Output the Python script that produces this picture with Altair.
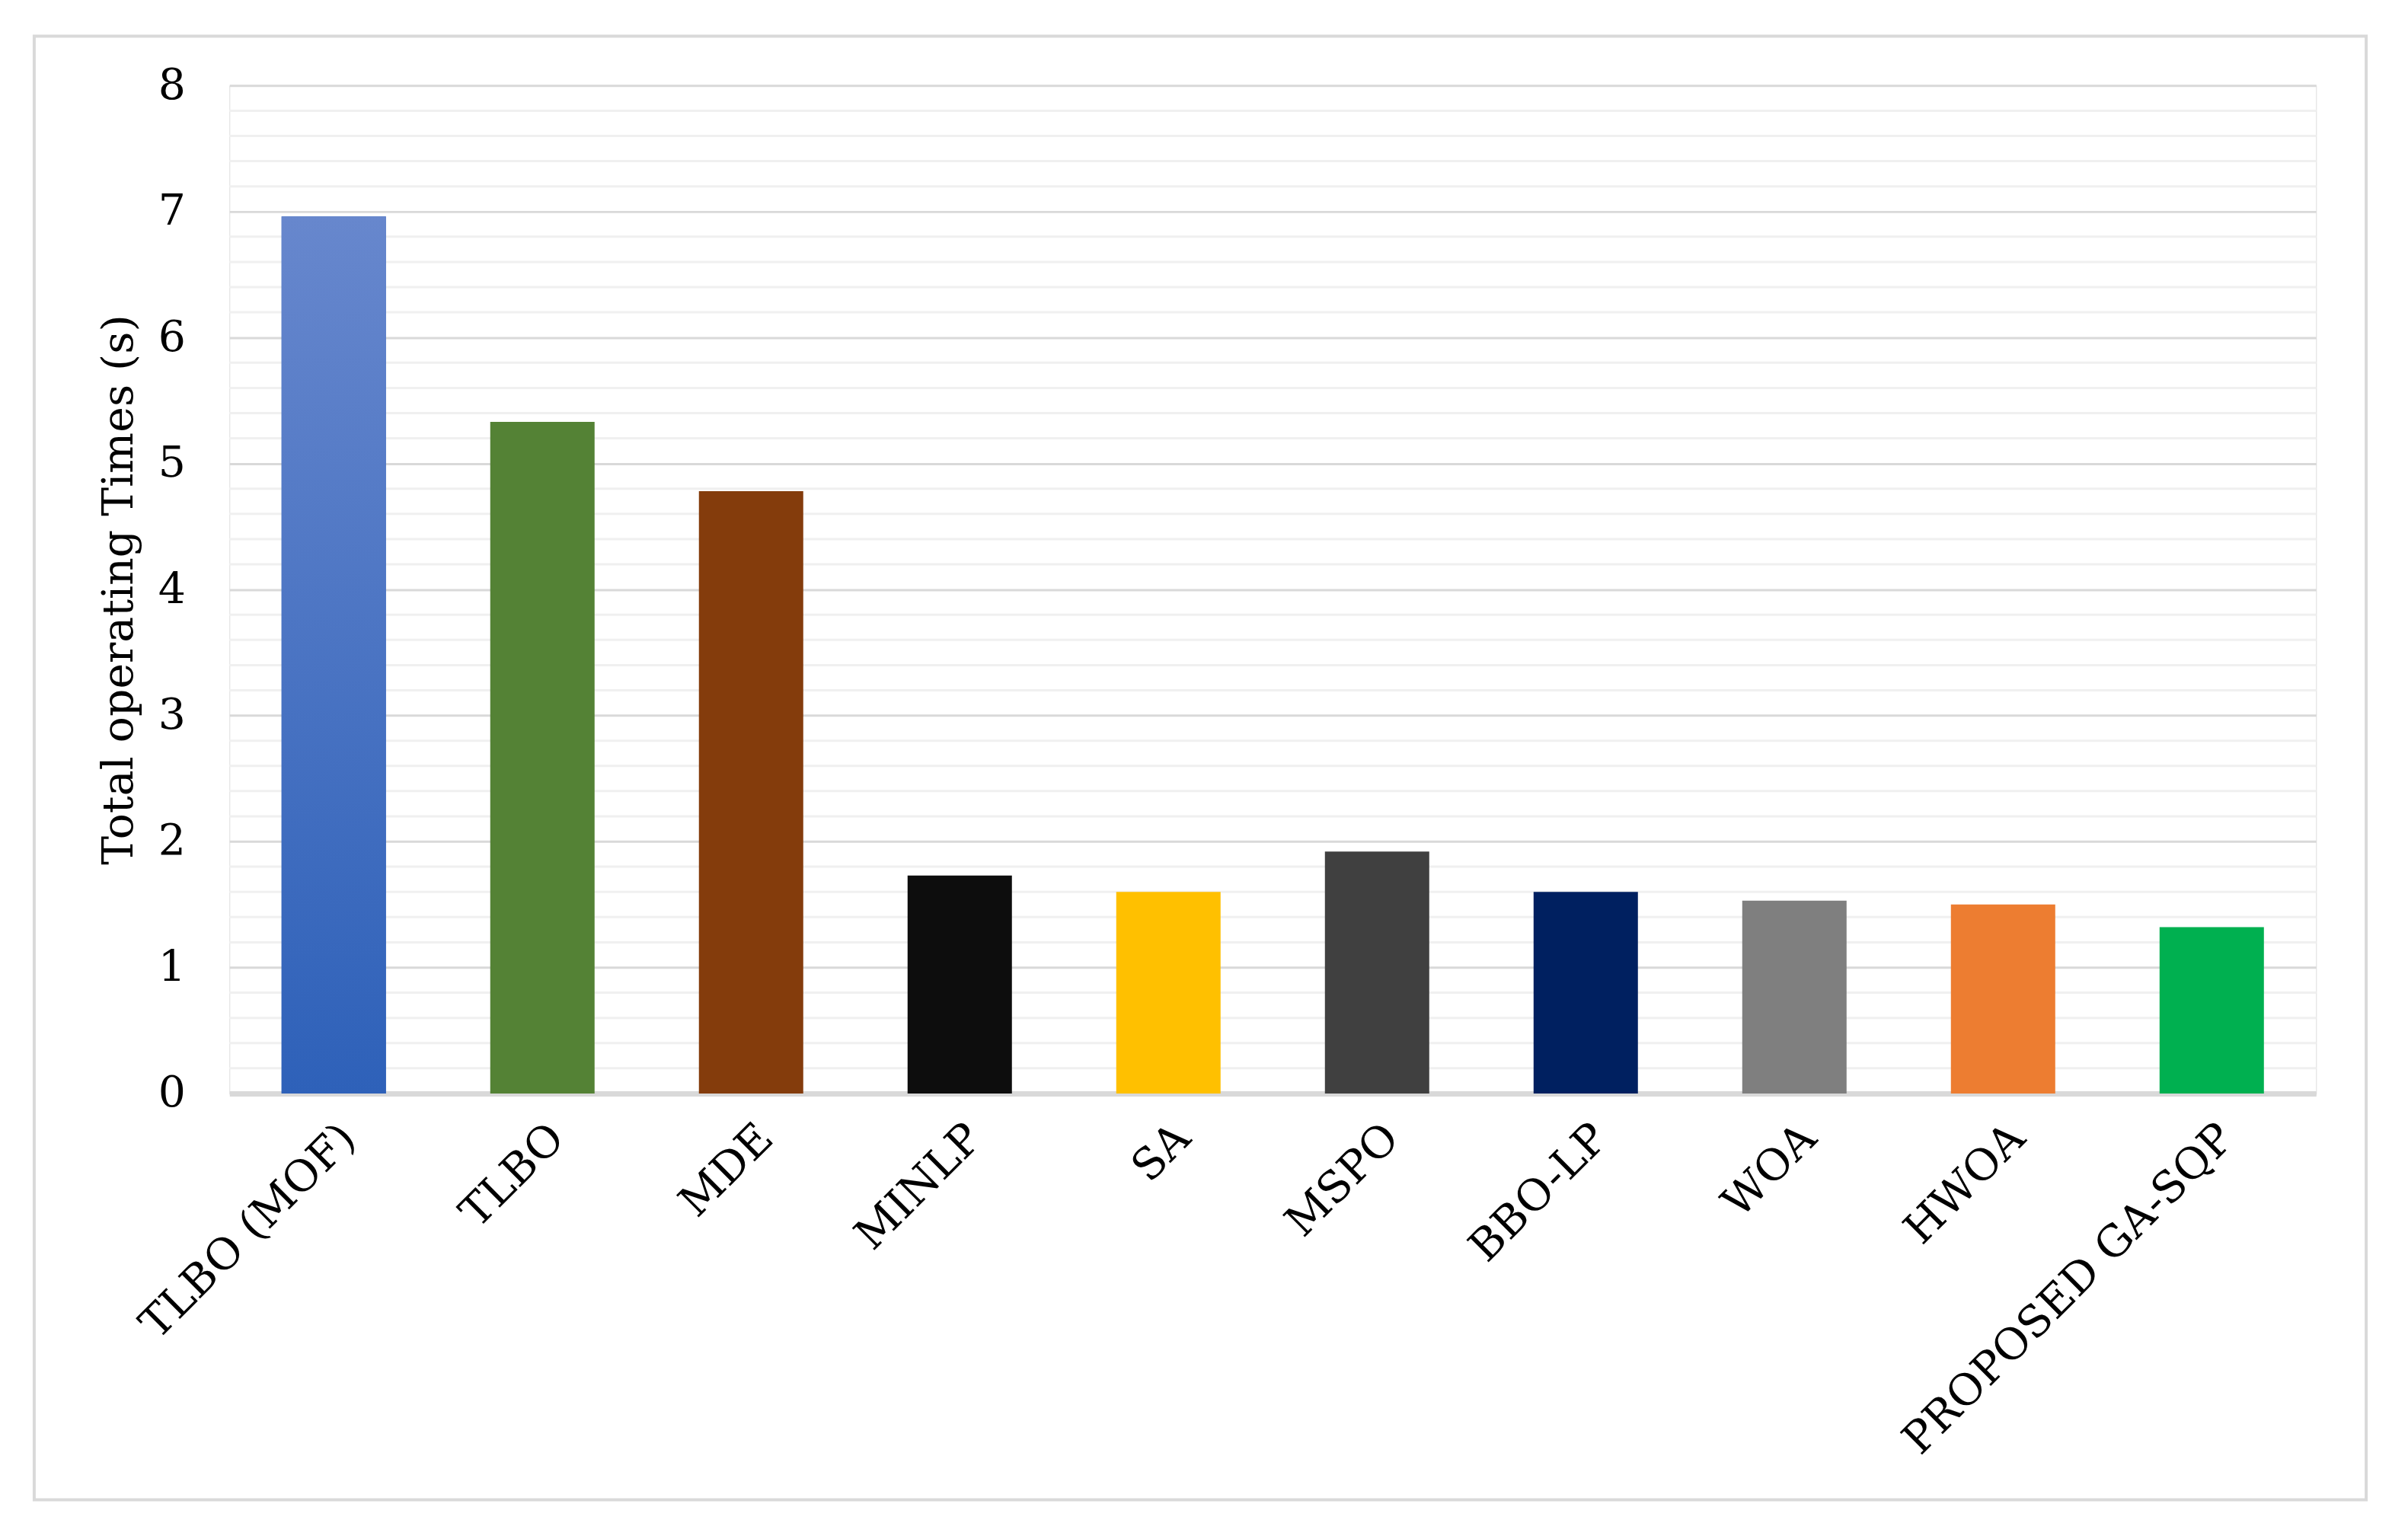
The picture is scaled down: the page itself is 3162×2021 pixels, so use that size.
import altair as alt
import pandas as pd

categories = ["TLBO (MOF)", "TLBO", "MDE", "MINLP", "SA", "MSPO", "BBO-LP", "WOA", "HWOA", "PROPOSED GA-SQP"]
times = [6.96, 5.33, 4.78, 1.73, 1.60, 1.92, 1.60, 1.53, 1.50, 1.32]
colors = ["#2f62b9", "#548235", "#843c0c", "#0d0d0d", "#ffc000", "#404040", "#002060", "#7f7f7f", "#ed7d31", "#00b050"]
minor_grid = [0.2, 0.4, 0.6, 0.8, 1.2, 1.4, 1.6, 1.8, 2.2, 2.4, 2.6, 2.8, 3.2, 3.4, 3.6, 3.8,
              4.2, 4.4, 4.6, 4.8, 5.2, 5.4, 5.6, 5.8, 6.2, 6.4, 6.6, 6.8, 7.2, 7.4, 7.6, 7.8]
y_ticks = [0, 1, 2, 3, 4, 5, 6, 7, 8]

FONT = "DejaVu Serif"
FS = 57
W, H = 2747, 1327

df = pd.DataFrame({"method": categories, "time": times})
grid_df = pd.DataFrame({"v": minor_grid})

yscale = alt.Scale(domain=[0, 8], nice=False)
xscale = alt.Scale(domain=categories, paddingInner=0.5, paddingOuter=0.25)

yaxis = alt.Axis(title="Total operating Times (s)", values=y_ticks, format="d",
                 labelFont=FONT, labelFontSize=FS, labelColor="black",
                 labelPadding=58, ticks=False, domain=False,
                 gridColor="#d9d9d9", gridWidth=3,
                 titleFont=FONT, titleFontSize=FS, titleFontWeight="normal",
                 titleColor="black", titlePadding=22)
xaxis = alt.Axis(title=None, labelAngle=-45, labelFont=FONT, labelFontSize=FS,
                 labelColor="black", labelPadding=30, ticks=False,
                 domainColor="#d9d9d9", domainWidth=7, labelLimit=1000)

minor = alt.Chart(grid_df).mark_rule(color="#f0f0f0", strokeWidth=3).encode(
    y=alt.Y("v:Q", scale=yscale, axis=yaxis)
)

bars = alt.Chart(df).mark_bar().encode(
    x=alt.X("method:N", sort=categories, scale=xscale, axis=xaxis),
    y=alt.Y("time:Q", scale=yscale, axis=yaxis),
    color=alt.Color("method:N", scale=alt.Scale(domain=categories, range=colors), legend=None),
)

grad = alt.Chart(df).transform_filter(alt.datum.method == categories[0]).mark_bar(
    color=alt.Gradient(
        gradient="linear",
        stops=[alt.GradientStop(color="#6787cd", offset=0),
               alt.GradientStop(color="#2e61b9", offset=1)],
        x1=1, x2=1, y1=0, y2=1,
    )
).encode(
    x=alt.X("method:N", sort=categories, scale=xscale, axis=xaxis),
    y=alt.Y("time:Q", scale=yscale, axis=yaxis),
)

border = alt.Chart(pd.DataFrame({"a": [0]})).mark_rect(
    fill=None, fillOpacity=0, stroke="#d9d9d9", strokeWidth=4
).encode(
    x=alt.value(-257), x2=alt.value(2813), y=alt.value(-65), y2=alt.value(1862)
)

chart = alt.layer(minor, bars, grad, border).properties(
    width=W, height=H,
    autosize=alt.AutoSizeParams(type="none"),
    padding={"left": 294, "top": 102, "right": 113, "bottom": 584},
).configure_view(stroke=None).configure(background="white")

chart.save("out.html", embed_options={"renderer": "svg", "actions": False})
